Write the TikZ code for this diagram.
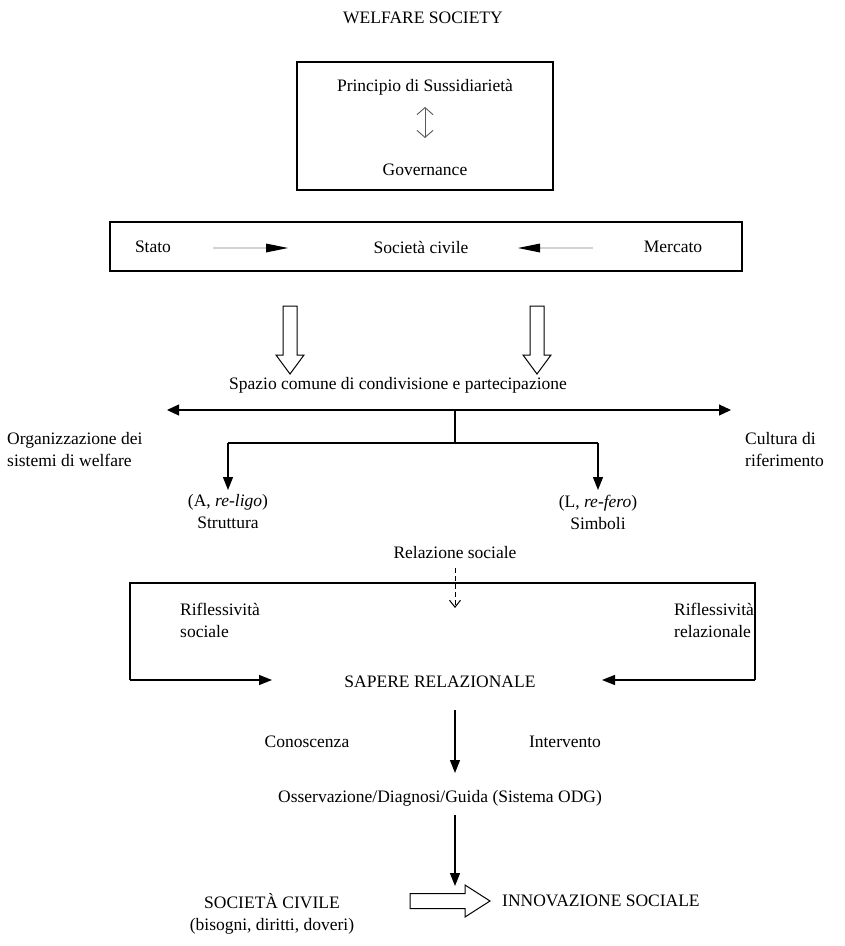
\documentclass[tikz,border=0pt]{standalone}
\usepackage{fontspec}
\setmainfont{Liberation Serif}
\usetikzlibrary{arrows.meta}
\begin{document}
\begin{tikzpicture}[x=1pt,y=-1pt,
  txt/.style={inner sep=0pt,font=\fontsize{17.5}{22}\selectfont,align=center},
  frame/.style={draw,line width=1.4pt},
  arr/.style={line width=1.2pt,-{Triangle[length=13pt,width=10pt]}},
  blockarr/.style={draw,line width=1pt,fill=white,line join=miter}]
\useasboundingbox (0,0) rectangle (845,946);
% title
\node[txt] (title) at (423,18) {WELFARE SOCIETY};
% box 1
\draw[frame] (297,62) rectangle (553,190);
\node[txt] (princ) at (425,87) {Principio di Sussidiarietà};
\node[txt] (gov) at (425,170) {Governance};
\coordinate (u1) at (425,107);
\coordinate (u2) at (425,138);
\draw[gray!70!black,line width=0.9pt,{Straight Barb[length=7pt,width=16pt]}-{Straight Barb[length=7pt,width=16pt]}] (u1) -- (u2);
% box 2
\draw[frame] (110,222) rectangle (742,271);
\node[txt] (stato) at (153,247) {Stato};
\node[txt] (socc) at (421,247) {Società civile};
\node[txt] (merc) at (673,247) {Mercato};
\coordinate (s1) at (213,248);
\coordinate (m1) at (593,248);
\draw[gray!35,line width=2.2pt] (s1) -- (268,248);
\fill (266,243.5) -- (288,248) -- (266,252.5) -- cycle;
\draw[gray!35,line width=2.2pt] (m1) -- (538,248);
\fill (540,243.5) -- (518,248) -- (540,252.5) -- cycle;
% open block arrows down
\foreach \cx in {290,537}{
  \draw[blockarr] (\cx-7,306) -- (\cx+7,306) -- (\cx+7,355) -- (\cx+14,355) -- (\cx,374) -- (\cx-14,355) -- (\cx-7,355) -- cycle;
}
\node[txt] (spazio) at (398,385) {Spazio comune di condivisione e partecipazione};
% horizontal double arrow
\coordinate (hl) at (167,410);
\coordinate (hr) at (731,410);
\coordinate (hm) at (455,410);
\draw[line width=1.2pt,{Triangle[length=12pt,width=11pt]}-{Triangle[length=12pt,width=11pt]}] (hl) -- (hr);
\coordinate (bm) at (455,443);
\coordinate (bl) at (228,443);
\coordinate (br) at (598,443);
\draw[line width=1.2pt] (hm) -- (bm);
\draw[line width=1.2pt] (bl) -- (br);
\node[txt] (strut) at (228,512) {(A, \textit{re-ligo})\\Struttura};
\node[txt] (simb) at (598,512) {(L, \textit{re-fero})\\Simboli};
\draw[arr] (bl) -- (228,490);
\draw[arr] (br) -- (598,490);
\node[txt,align=left,anchor=west] (org) at (7,450) {Organizzazione dei\\sistemi di welfare};
\node[txt,align=left,anchor=west] (cult) at (745,450) {Cultura di\\riferimento};
\node[txt] (relsoc) at (455,553) {Relazione sociale};
% box 3
\coordinate (rs) at (455,568);
\coordinate (rd) at (455,608);
\draw[line width=1pt,dashed,dash pattern=on 5pt off 3pt,-{Straight Barb[length=7pt,width=11pt]}] (rs) -- (rd);
\node[txt] (sapere) at (440,682) {SAPERE RELAZIONALE};
\coordinate (l3) at (130,680);
\coordinate (r3) at (755,680);
\draw[line width=1.4pt] (l3) -- (130,583) -- (755,583) -- (r3);
\draw[arr] (l3) -- (272,680);
\draw[arr] (r3) -- (602,680);
\node[txt,align=left,anchor=west] (rifl1) at (180,620) {Riflessività\\sociale};
\node[txt,align=left,anchor=west] (rifl2) at (674,620) {Riflessività\\relazionale};
\coordinate (d1) at (455,710);
\coordinate (d2) at (455,773);
\draw[arr] (d1) -- (d2);
\node[txt] (con) at (307,742) {Conoscenza};
\node[txt] (int) at (565,742) {Intervento};
\node[txt] (odg) at (440,798) {Osservazione/Diagnosi/Guida (Sistema ODG)};
\coordinate (e1) at (455,815);
\coordinate (e2) at (455,886);
\draw[arr] (e1) -- (e2);
\node[txt] (socciv) at (272,914) {SOCIETÀ CIVILE\\(bisogni, diritti, doveri)};
\node[txt,anchor=west] (innov) at (502,901) {INNOVAZIONE SOCIALE};
% open block arrow right
\draw[blockarr] (410,893.5) -- (465,893.5) -- (465,885) -- (490,901) -- (465,917) -- (465,908.5) -- (410,908.5) -- cycle;
\end{tikzpicture}
\end{document}
